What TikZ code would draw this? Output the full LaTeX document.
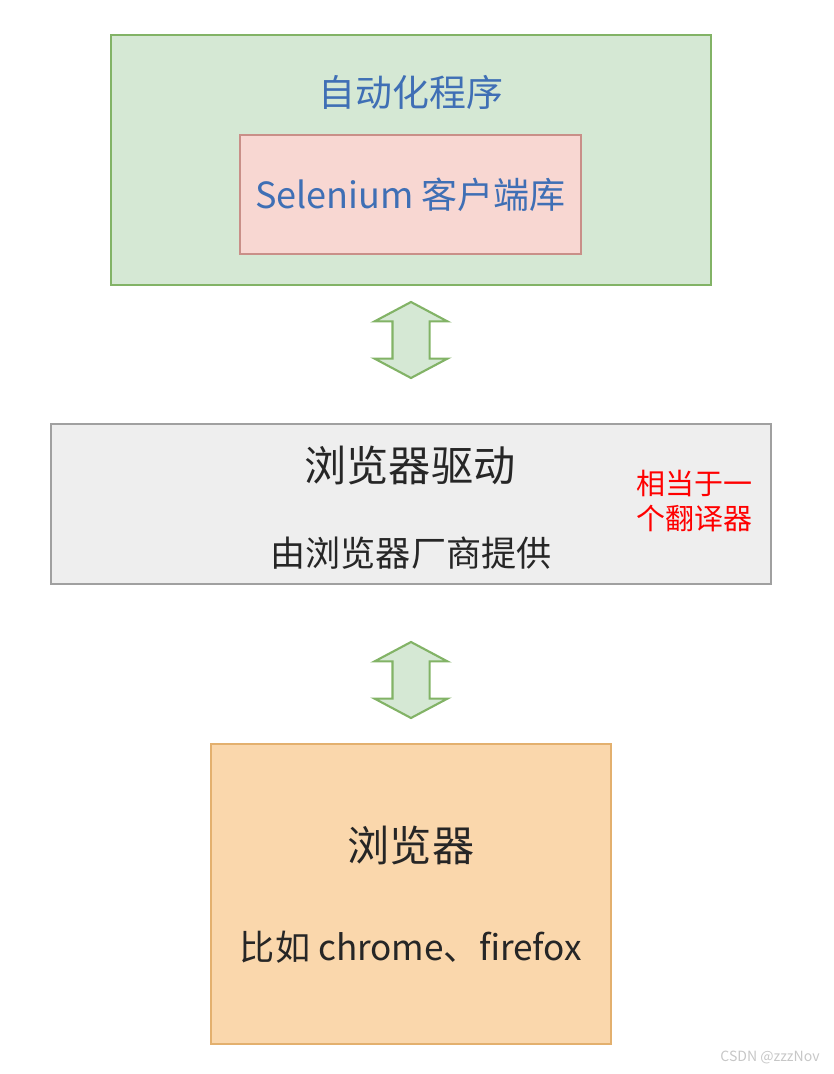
\documentclass[tikz,border=0pt]{standalone}
\usepackage{fontspec}
\setmainfont{Noto Sans CJK SC}
\usetikzlibrary{shapes.arrows}
\definecolor{boxgreen}{HTML}{D5E8D4}
\definecolor{linegreen}{HTML}{82B366}
\definecolor{boxpink}{HTML}{F8D7D2}
\definecolor{linepink}{HTML}{C98F88}
\definecolor{boxgray}{HTML}{EEEEEE}
\definecolor{linegray}{HTML}{A0A0A0}
\definecolor{boxorange}{HTML}{FAD7AC}
\definecolor{lineorange}{HTML}{E3B06E}
\definecolor{textblue}{HTML}{3F6FB5}
\definecolor{textdark}{HTML}{262626}
\tikzset{
  layer/.style={draw, line width=1.2pt, inner sep=0pt},
  label/.style={text=textdark, inner sep=0pt},
  updown/.style={double arrow, rotate=90, draw=linegreen, fill=boxgreen, line width=1.2pt,
    minimum height=1.52cm, inner sep=0.35cm, double arrow head extend=0.36cm,
    double arrow tip angle=124}
}
\begin{document}
\begin{tikzpicture}[x=0.02cm, y=-0.02cm]
\useasboundingbox (0,0) rectangle (834,1074);
% automation program with client library
\node[layer, draw=linegreen, fill=boxgreen, minimum width=12cm, minimum height=5cm] (prog) at (411,160) {};
\node[label, text=textblue, font=\fontsize{21}{25}\selectfont] (progtitle) at (411,92) {自动化程序};
\node[layer, draw=linepink, fill=boxpink, minimum width=6.82cm, minimum height=2.38cm] (lib) at (410.5,194.5) {};
\node[label, text=textblue, font=\fontsize{20.5}{24}\selectfont] (libtitle) at (lib) {Selenium 客户端库};
% driver
\node[updown] (arrowa) at (411,340) {};
\node[layer, draw=linegray, fill=boxgray, minimum width=14.4cm, minimum height=3.2cm] (driver) at (411,504) {};
\node[label, font=\fontsize{24}{28}\selectfont] (drivertitle) at (410,465) {浏览器驱动};
\node[label, font=\fontsize{20}{24}\selectfont] (drivernote) at (411,553) {由浏览器厂商提供};
\node[label, text=red, align=left, font=\fontsize{16.5}{20}\selectfont] (translator) at (694,501) {相当于一\\个翻译器};
% browser
\node[updown] (arrowb) at (411,680) {};
\node[layer, draw=lineorange, fill=boxorange, minimum width=8cm, minimum height=6cm] (browser) at (411,894) {};
\node[label, font=\fontsize{24}{28}\selectfont] (browsertitle) at (411,845) {浏览器};
\node[label, font=\fontsize{20}{24}\selectfont] (browsernote) at (411,947) {比如 chrome、firefox};
\node[label, text=black!22, font=\fontsize{8}{10}\selectfont] (mark) at (770,1057) {CSDN @zzzNov};
\end{tikzpicture}
\end{document}
